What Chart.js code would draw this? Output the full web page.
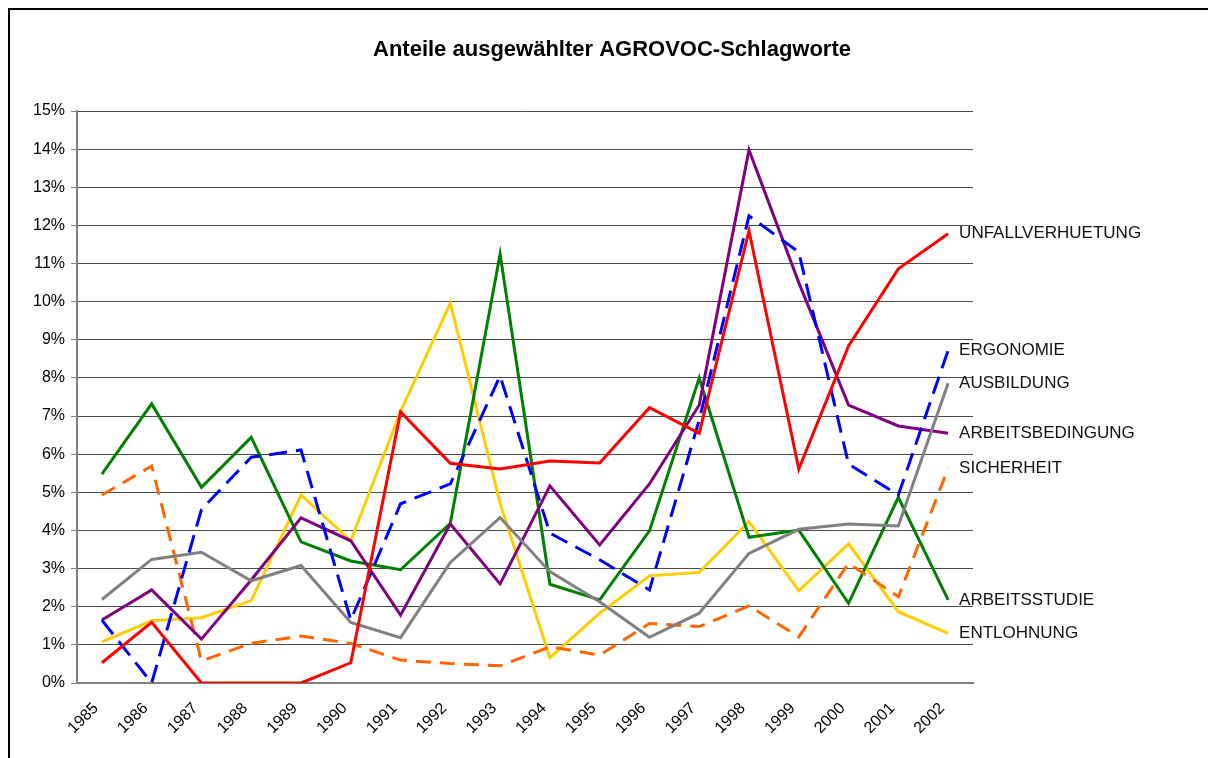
<!DOCTYPE html>
<html>
<head>
  <title>Anteile ausgewählter AGROVOC-Schlagworte</title>
  <script src="https://cdn.jsdelivr.net/npm/chart.js"></script>
  <style>
    html, body { margin: 0; padding: 0; background: #fff; overflow: hidden; }
    #wrap { position: absolute; left: 0; top: 0; width: 1208px; height: 758px; }
    #frame { position: absolute; left: 8px; top: 8px; width: 1300px; height: 900px; border: 2px solid #000; pointer-events: none; }
  </style>
</head>
<body>
  <div id="wrap"><canvas id="chart"></canvas></div>
  <div id="frame"></div>
  <script>
    const title = 'Anteile ausgewählter AGROVOC-Schlagworte';
    const years = ['1985','1986','1987','1988','1989','1990','1991','1992','1993','1994','1995','1996','1997','1998','1999','2000','2001','2002'];

    // Anteile in Prozent
    const unfallverhuetung = [0.53, 1.59, 0, 0, 0, 0.53, 7.11, 5.76, 5.61, 5.82, 5.77, 7.22, 6.55, 11.86, 5.61, 8.84, 10.86, 11.78];
    const ergonomie        = [1.65, 0, 4.55, 5.92, 6.11, 1.65, 4.7, 5.22, 8.05, 3.93, 3.23, 2.44, 6.9, 12.25, 11.3, 5.74, 4.93, 8.72];
    const ausbildung       = [2.19, 3.24, 3.43, 2.68, 3.08, 1.59, 1.19, 3.16, 4.34, 2.92, 2.13, 1.2, 1.83, 3.4, 4.03, 4.17, 4.12, 7.86];
    const arbeitsbedingung = [1.65, 2.44, 1.15, 2.7, 4.33, 3.73, 1.78, 4.17, 2.6, 5.17, 3.62, 5.22, 7.29, 13.98, 10.5, 7.29, 6.74, 6.55];
    const sicherheit       = [4.93, 5.69, 0.58, 1.04, 1.23, 1.04, 0.6, 0.51, 0.45, 0.95, 0.73, 1.56, 1.48, 2.02, 1.21, 3.14, 2.26, 5.63];
    const arbeitsstudie    = [5.48, 7.32, 5.13, 6.44, 3.7, 3.2, 2.97, 4.19, 11.25, 2.59, 2.18, 3.99, 8.0, 3.82, 4.01, 2.09, 4.87, 2.18];
    const entlohnung       = [1.08, 1.63, 1.71, 2.16, 4.93, 3.73, 7.12, 9.96, 4.71, 0.66, 1.83, 2.81, 2.9, 4.23, 2.42, 3.65, 1.87, 1.3];

    const yMin = 0, yMax = 15, yStep = 1;
    const FONT = '"Liberation Sans", Arial, sans-serif';

    function series(label, data, color, dash) {
      return {
        label, data,
        borderColor: color,
        backgroundColor: color,
        borderWidth: 3,
        borderDash: dash || [],
        pointRadius: 0,
        tension: 0,
        fill: false
      };
    }

    // Titel (zentriert über der ganzen Fläche) und Beschriftung am Linienende
    const textPlugin = {
      id: 'textPlugin',
      afterDraw(chart) {
        const ctx = chart.ctx;
        ctx.save();
        ctx.fillStyle = '#000';
        ctx.textAlign = 'center';
        ctx.textBaseline = 'middle';
        ctx.font = 'bold 22px ' + FONT;
        ctx.fillText(title, 612, 50);

        ctx.font = '17px ' + FONT;
        ctx.fillStyle = '#111';
        ctx.textAlign = 'left';
        chart.data.datasets.forEach((ds, i) => {
          const pts = chart.getDatasetMeta(i).data;
          const p = pts[pts.length - 1];
          ctx.fillText(ds.label, p.x + 11, p.y);
        });
        ctx.restore();
      }
    };

    new Chart(document.getElementById('chart'), {
      type: 'line',
      data: {
        labels: years,
        datasets: [
          series('UNFALLVERHUETUNG', unfallverhuetung, '#ff0000'),
          series('ERGONOMIE', ergonomie, '#0000ff', [18, 9]),
          series('AUSBILDUNG', ausbildung, '#808080'),
          series('ARBEITSBEDINGUNG', arbeitsbedingung, '#800080'),
          series('SICHERHEIT', sicherheit, '#ff6600', [15, 9]),
          series('ARBEITSSTUDIE', arbeitsstudie, '#008000'),
          series('ENTLOHNUNG', entlohnung, '#ffcc00')
        ]
      },
      plugins: [textPlugin],
      options: {
        responsive: true,
        maintainAspectRatio: false,
        animation: false,
        layout: { padding: { left: 0, right: 235, top: 111, bottom: 0 } },
        plugins: {
          legend: { display: false },
          tooltip: { enabled: false },
          title: { display: false }
        },
        scales: {
          x: {
            offset: true,
            grid: { display: false, drawTicks: false },
            border: { display: true, color: '#808080', width: 2 },
            ticks: {
              color: '#000',
              maxRotation: 45, minRotation: 45,
              padding: 16,
              labelOffset: -6,
              font: { family: FONT, size: 16 }
            },
            afterFit(scale) { scale.height = 75; }
          },
          y: {
            min: yMin, max: yMax,
            grid: { color: '#4a4a4a', lineWidth: 1, tickLength: 6, tickColor: '#808080' },
            border: { display: true, color: '#808080', width: 2 },
            ticks: {
              stepSize: yStep,
              color: '#000',
              padding: 6,
              font: { family: FONT, size: 16 },
              callback: v => v + '%'
            },
            afterFit(scale) { scale.width = 77; }
          }
        }
      }
    });
  </script>
</body>
</html>
